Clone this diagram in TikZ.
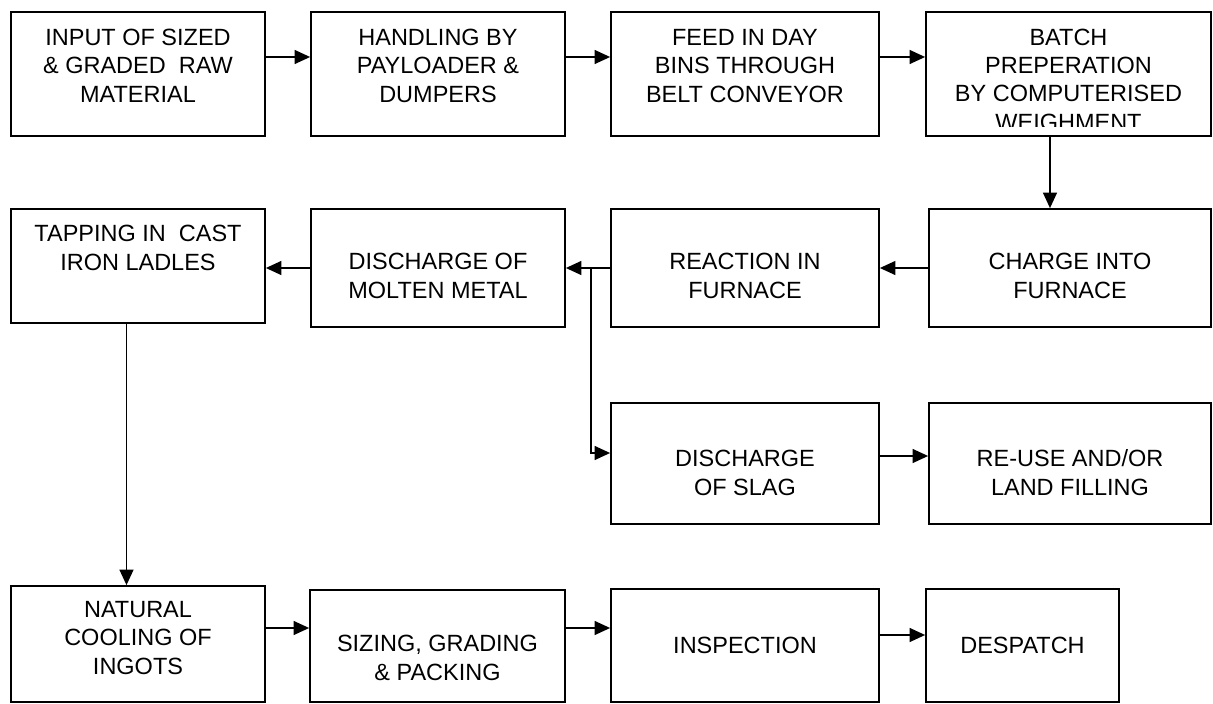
\documentclass[tikz,border=0pt]{standalone}
\usepackage{fontspec}
\setmainfont{Liberation Sans}
\usetikzlibrary{arrows.meta}

\begin{document}
\begin{tikzpicture}[x=0.025cm, y=-0.025cm,
    box/.style={draw, line width=1.2pt, inner sep=0pt},
    txt/.style={align=center, anchor=base, inner sep=0pt,
        font=\fontsize{16.7pt}{20.1pt}\selectfont},
    arr/.style={line width=1.1pt, -{Triangle[length=0.39cm, width=0.35cm]}}]
    \useasboundingbox (0, 0) rectangle (1213, 704);

    % first row
    \node[box, minimum width=6.35cm, minimum height=3.1cm] (input) at (138, 74) {};
    \node[box, minimum width=6.35cm, minimum height=3.1cm] (handling) at (438, 74) {};
    \node[box, minimum width=6.7cm, minimum height=3.1cm] (feed) at (745, 74) {};
    \node[box, minimum width=7.125cm, minimum height=3.1cm] (batch) at (1068.5, 74) {};

    % (base = last line)
    \node[txt] (input-t) at (138, 102) {INPUT OF SIZED\\\& GRADED\ \ RAW\\MATERIAL};
    \node[txt] (handling-t) at (438, 102) {HANDLING BY\\PAYLOADER \&\\DUMPERS};
    \node[txt] (feed-t) at (745, 102) {FEED IN DAY\\BINS THROUGH\\BELT CONVEYOR};
    \begin{scope}
        \clip (batch.north west) rectangle ([yshift=0.25cm]batch.south east);
        \node[txt] (batch-t) at (1068.5, 130) {BATCH\\PREPERATION\\BY COMPUTERISED\\WEIGHMENT};
    \end{scope}

    % second row
    \node[box, minimum width=6.35cm, minimum height=2.85cm] (tapping) at (138, 266) {};
    \node[box, minimum width=6.35cm, minimum height=2.95cm] (molten) at (438, 268) {};
    \node[box, minimum width=6.7cm, minimum height=2.95cm] (reaction) at (745, 268) {};
    \node[box, minimum width=7.05cm, minimum height=2.95cm] (charge) at (1070, 268) {};

    \node[txt] (tapping-t) at (138, 270) {TAPPING IN\ \ CAST\\IRON LADLES};
    \node[txt] (molten-t) at (438, 298) {DISCHARGE OF\\MOLTEN METAL};
    \node[txt] (reaction-t) at (745, 298) {REACTION IN\\FURNACE};
    \node[txt] (charge-t) at (1070, 298) {CHARGE INTO\\FURNACE};

    % slag
    \node[box, minimum width=6.7cm, minimum height=3.025cm] (slag) at (745, 463.5) {};
    \node[box, minimum width=7.05cm, minimum height=3.025cm] (reuse) at (1070, 463.5) {};

    \node[txt] (slag-t) at (745, 495) {DISCHARGE\\OF SLAG};
    \node[txt] (reuse-t) at (1070, 495) {RE-USE AND/OR\\LAND FILLING};

    % last row
    \node[box, minimum width=6.35cm, minimum height=2.9cm] (cooling) at (138, 644) {};
    \node[box, minimum width=6.375cm, minimum height=2.8cm] (sizing) at (437.5, 646) {};
    \node[box, minimum width=6.7cm, minimum height=2.825cm] (inspect) at (745, 645.5) {};
    \node[box, minimum width=4.825cm, minimum height=2.825cm] (despatch) at (1022.5, 645.5) {};

    \node[txt] (cooling-t) at (138, 674) {NATURAL\\COOLING OF\\INGOTS};
    \node[txt] (sizing-t) at (437.5, 680) {SIZING, GRADING\\\& PACKING};
    \node[txt] (inspect-t) at (745, 653) {INSPECTION};
    \node[txt] (despatch-t) at (1022.5, 653) {DESPATCH};

    \draw[arr] ([yshift=0.425cm]input.east) -- ([yshift=0.425cm]handling.west);
    \draw[arr] ([yshift=0.425cm]handling.east) -- ([yshift=0.425cm]feed.west);
    \draw[arr] ([yshift=0.425cm]feed.east) -- ([yshift=0.425cm]batch.west);
    \draw[arr] ([xshift=-0.4625cm]batch.south) -- ([xshift=-0.4625cm]batch.south |- charge.north);
    \draw[arr] (charge.west) -- (reaction.east);
    \draw[arr] (reaction.west) -- (molten.east);
    \draw[arr] ([xshift=-0.475cm]reaction.west) |- ([yshift=0.2625cm]slag.west);
    \draw[arr] (molten.west) -- (molten.west -| tapping.east);
    \draw[arr] ([yshift=0.1875cm]slag.east) -- ([yshift=0.1875cm]reuse.west);
    \draw[arr] ([xshift=-0.2875cm]tapping.south) -- ([xshift=-0.2875cm]tapping.south |- cooling.north);
    \draw[arr] ([yshift=0.4cm]cooling.east) -- ([yshift=0.4cm]cooling.east -| sizing.west);
    \draw[arr] ([yshift=0.45cm]sizing.east) -- ([yshift=0.45cm]sizing.east -| inspect.west);
    \draw[arr] ([yshift=0.2625cm]inspect.east) -- ([yshift=0.2625cm]inspect.east -| despatch.west);
\end{tikzpicture}
\end{document}
